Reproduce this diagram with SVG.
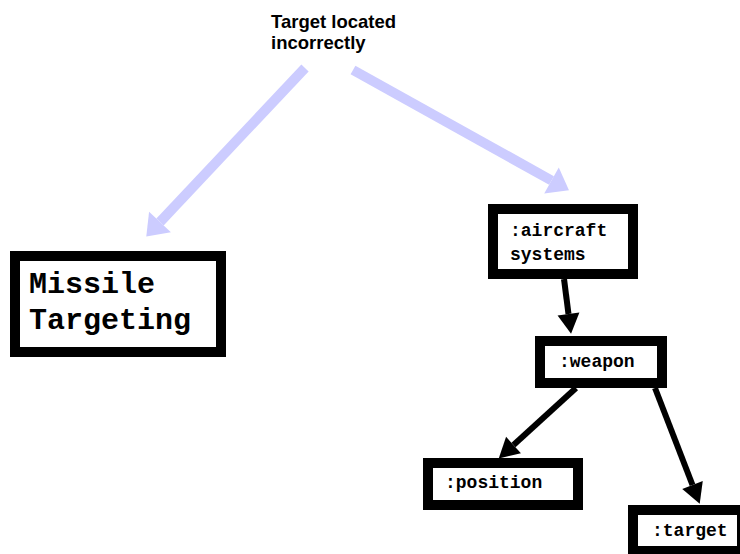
<svg xmlns="http://www.w3.org/2000/svg" width="740" height="554" viewBox="0 0 740 554">
  <style>
    .box { fill: #ffffff; stroke: #000000; stroke-width: 10; }
    .code { font-family: "Liberation Mono", "Courier New", monospace; font-weight: bold; fill: #000000; }
    .big { font-size: 30px; }
    .small { font-size: 18px; }
    .label { font-family: "Liberation Sans", Arial, sans-serif; font-weight: bold; font-size: 18.5px; fill: #000000; }
    .link { stroke: #000000; stroke-width: 6; fill: none; }
    .hint { stroke: #ccccff; stroke-width: 10; fill: none; }
  </style>
  <defs>
    <marker id="arrow-black" markerUnits="userSpaceOnUse" markerWidth="20" markerHeight="22" refX="0" refY="11" orient="auto" overflow="visible">
      <path d="M0,0 L20,11 L0,22 z" fill="#000000"/>
    </marker>
    <marker id="arrow-light" markerUnits="userSpaceOnUse" markerWidth="20" markerHeight="30" refX="0" refY="15" orient="auto" overflow="visible">
      <path d="M0,0 L20,15 L0,30 z" fill="#ccccff"/>
    </marker>
  </defs>

  <rect width="740" height="554" fill="#ffffff"/>

  <!-- connectors -->
  <g id="connectors">
    <line class="hint" x1="305" y1="68" x2="160" y2="222" marker-end="url(#arrow-light)"/>
    <line class="hint" x1="353" y1="70" x2="551.5" y2="180.5" marker-end="url(#arrow-light)"/>
    <line class="link" x1="564" y1="279" x2="568.5" y2="314" marker-end="url(#arrow-black)"/>
    <line class="link" x1="576" y1="388" x2="513.5" y2="445" marker-end="url(#arrow-black)"/>
    <line class="link" x1="655" y1="388" x2="692.5" y2="485" marker-end="url(#arrow-black)"/>
  </g>

  <!-- caption -->
  <g id="caption">
    <text class="label" x="271" y="27.5">Target located</text>
    <text class="label" x="271" y="48.5">incorrectly</text>
  </g>

  <!-- nodes -->
  <g id="missile-targeting">
    <rect class="box" x="15" y="256" width="206" height="96"/>
    <text class="code big" x="29" y="293">Missile</text>
    <text class="code big" x="29" y="329">Targeting</text>
  </g>

  <g id="aircraft-systems">
    <rect class="box" x="493" y="209" width="140" height="65"/>
    <text class="code small" x="510" y="236">:aircraft</text>
    <text class="code small" x="510" y="260">systems</text>
  </g>

  <g id="weapon">
    <rect class="box" x="540" y="341" width="122" height="42"/>
    <text class="code small" x="559" y="367">:weapon</text>
  </g>

  <g id="position">
    <rect class="box" x="428" y="463" width="150" height="42"/>
    <text class="code small" x="445" y="488">:position</text>
  </g>

  <g id="target">
    <rect class="box" x="633" y="510" width="109" height="41"/>
    <text class="code small" x="652" y="536">:target</text>
  </g>
</svg>
